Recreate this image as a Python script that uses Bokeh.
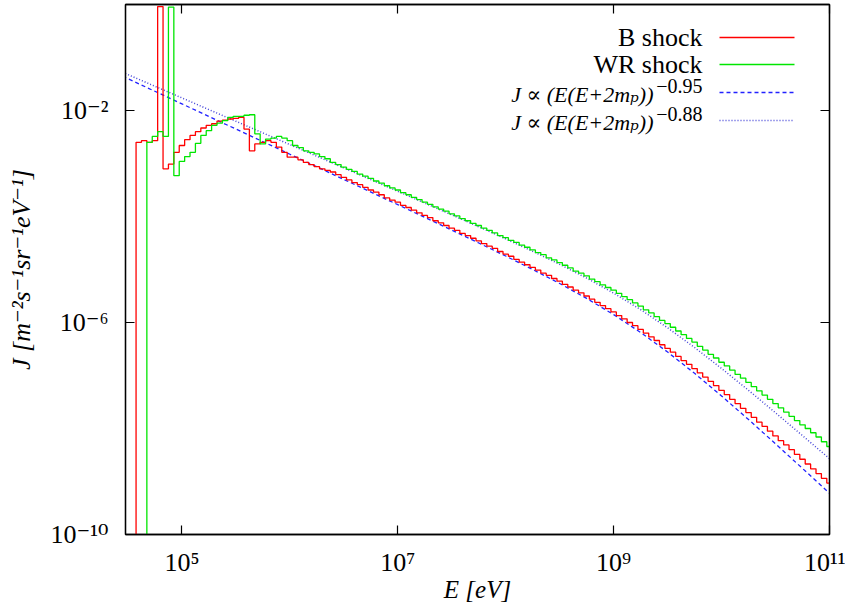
import numpy as np
from bokeh.plotting import figure
from bokeh.models import LogAxis, FixedTicker, Label, Arrow, Range1d
from bokeh.embed import file_html
from bokeh.resources import INLINE

# ---------------- data ----------------
# histogram bins: log10(E/eV) of the first bin edge of each series, bin width in dex
b_first_edge_log10E = 4.575
wr_first_edge_log10E = 4.675
bin_width_dex = 0.05

# log10 J for each bin, B shock (red)
b_shock_log10J = [
    -2.60, -2.57, -2.60, -2.57, -0.04, -3.10, -3.01, -2.79, -2.66, -2.55,
    -2.47, -2.40, -2.33, -2.28, -2.25, -2.20, -2.18, -2.16, -2.15, -2.13,
    -2.35, -2.76, -2.63, -2.60, -2.57, -2.60, -2.69, -2.79, -2.88, -2.88,
    -2.93, -2.98, -3.02, -3.06, -3.10, -3.13, -3.16, -3.21, -3.26, -3.31,
    -3.36, -3.40, -3.45, -3.50, -3.54, -3.59, -3.65, -3.69, -3.73, -3.79,
    -3.83, -3.88, -3.93, -3.98, -4.02, -4.08, -4.12, -4.17, -4.22, -4.26,
    -4.32, -4.36, -4.41, -4.46, -4.51, -4.56, -4.60, -4.66, -4.71, -4.75,
    -4.81, -4.86, -4.91, -4.96, -5.01, -5.07, -5.11, -5.17, -5.22, -5.28,
    -5.33, -5.39, -5.44, -5.50, -5.56, -5.62, -5.68, -5.74, -5.80, -5.87,
    -5.93, -6.00, -6.06, -6.13, -6.20, -6.27, -6.34, -6.42, -6.49, -6.56,
    -6.64, -6.72, -6.79, -6.87, -6.95, -7.03, -7.11, -7.19, -7.28, -7.36,
    -7.45, -7.53, -7.62, -7.70, -7.79, -7.88, -7.96, -8.05, -8.14, -8.23,
    -8.31, -8.40, -8.49, -8.58, -8.67, -8.76, -8.85, -8.94, -9.03,
]

# log10 J for each bin, WR shock (green)
wr_shock_log10J = [
    -2.60, -2.49, -2.40, -2.49, -0.05, -3.23, -2.96, -2.87, -2.79, -2.62,
    -2.47, -2.38, -2.28, -2.24, -2.19, -2.13, -2.11, -2.11, -2.09, -2.08,
    -2.44, -2.63, -2.54, -2.52, -2.49, -2.52, -2.57, -2.66, -2.70, -2.76,
    -2.79, -2.82, -2.87, -2.91, -2.98, -3.02, -3.07, -3.11, -3.15, -3.20,
    -3.24, -3.28, -3.33, -3.37, -3.42, -3.46, -3.50, -3.55, -3.59, -3.64,
    -3.68, -3.73, -3.77, -3.82, -3.86, -3.90, -3.95, -3.99, -4.04, -4.08,
    -4.13, -4.17, -4.22, -4.26, -4.31, -4.36, -4.40, -4.45, -4.49, -4.54,
    -4.58, -4.63, -4.68, -4.72, -4.78, -4.82, -4.87, -4.92, -4.97, -5.03,
    -5.07, -5.12, -5.18, -5.23, -5.29, -5.34, -5.39, -5.45, -5.51, -5.57,
    -5.63, -5.69, -5.76, -5.82, -5.89, -5.96, -6.02, -6.09, -6.16, -6.23,
    -6.30, -6.37, -6.45, -6.52, -6.60, -6.67, -6.75, -6.82, -6.90, -6.98,
    -7.05, -7.13, -7.21, -7.29, -7.37, -7.45, -7.53, -7.61, -7.69, -7.77,
    -7.85, -7.93, -8.00, -8.08, -8.16, -8.25, -8.34,
]

# power-law reference curves
fit_log10E = [4.45, 5.0, 5.5, 6.0, 6.5, 7.0, 7.5, 7.75, 8.0, 8.25, 8.5,
              8.75, 9.0, 9.25, 9.5, 9.75, 10.0, 10.25, 10.5, 10.75, 11.0]
fit095_log10J = [-1.353, -1.875, -2.350, -2.825, -3.301, -3.777, -4.257,
                 -4.500, -4.746, -5.000, -5.264, -5.546, -5.851, -6.188,
                 -6.557, -6.959, -7.386, -7.832, -8.289, -8.754, -9.223]
fit088_log10J = [-1.279, -1.763, -2.203, -2.643, -3.083, -3.525, -3.969,
                 -4.194, -4.422, -4.657, -4.902, -5.163, -5.446, -5.757,
                 -6.100, -6.472, -6.868, -7.280, -7.704, -8.135, -8.569]

x_ticks = [1e5, 1e7, 1e9, 1e11]
x_tick_labels = ["10\u2075", "10\u2077", "10\u2079", "10\u00b9\u00b9"]
y_ticks = [1e-10, 1e-6, 1e-2]
y_tick_labels = ["10\u207b\u00b9\u2070", "10\u207b\u2076", "10\u207b\u00b2"]

series_names = ["B shock", "WR shock"]
fit_names = ["J \u221d (E(E+2m\u209a))", "J \u221d (E(E+2m\u209a))"]
fit_exponents = ["\u22120.95", "\u22120.88"]

# ---------------- helpers ----------------
FLOOR = 1e-13  # below the axis, so the first riser comes up from the bottom


def step_path(first_edge, log_vals):
    n = len(log_vals)
    edges = 10 ** (first_edge + bin_width_dex * np.arange(n + 1))
    vals = 10 ** np.asarray(log_vals)
    xs = [edges[0]]
    ys = [FLOOR]
    for i in range(n):
        xs += [edges[i], edges[i + 1]]
        ys += [vals[i], vals[i]]
    return xs, ys


FONT = "Liberation Serif, DejaVu Serif"
FS = "26px"

p = figure(
    x_axis_type="log", y_axis_type="log",
    x_range=Range1d(3e4, 1e11), y_range=Range1d(1e-10, 1.0),
    frame_width=704, frame_height=530,
    min_border_left=125, min_border_right=16,
    min_border_top=4, min_border_bottom=60,
    toolbar_location=None, output_backend="svg",
)
p.background_fill_color = "white"
p.border_fill_color = "white"
p.outline_line_color = "black"
p.outline_line_width = 1.3
p.xgrid.visible = False
p.ygrid.visible = False

# data
bx, by = step_path(b_first_edge_log10E, b_shock_log10J)
gx, gy = step_path(wr_first_edge_log10E, wr_shock_log10J)
fx = 10 ** np.asarray(fit_log10E)

DASH_COL = "#2222ff"
DOT_COL = "#4646d8"
p.line(fx, 10 ** np.asarray(fit095_log10J), line_color=DASH_COL, line_width=1.3,
       line_dash="4 3")
p.line(fx, 10 ** np.asarray(fit088_log10J), line_color=DOT_COL, line_width=1.5,
       line_dash="1 2")
p.line(bx, by, line_color="#ff0000", line_width=1.3)
p.line(gx, gy, line_color="#00e600", line_width=1.3)

# axes
bottom_ax = p.below[0]
left_ax = p.left[0]
bottom_ax.ticker = FixedTicker(ticks=x_ticks)
bottom_ax.major_label_overrides = {float(t): s for t, s in zip(x_ticks, x_tick_labels)}
bottom_ax.axis_label = "E [eV]"
left_ax.ticker = FixedTicker(ticks=y_ticks)
left_ax.major_label_overrides = {float(t): s for t, s in zip(y_ticks, y_tick_labels)}
left_ax.axis_label = "J [m\u207b\u00b2s\u207b\u00b9sr\u207b\u00b9eV\u207b\u00b9]"

right_ax = LogAxis(ticker=FixedTicker(ticks=y_ticks))
top_ax = LogAxis(ticker=FixedTicker(ticks=x_ticks))
p.add_layout(right_ax, "right")
p.add_layout(top_ax, "above")

for ax in [bottom_ax, left_ax, right_ax, top_ax]:
    ax.axis_line_color = "black"
    ax.axis_line_width = 1.3
    ax.major_tick_in = 9
    ax.major_tick_out = 0
    ax.major_tick_line_color = "black"
    ax.major_tick_line_width = 1.2
    ax.minor_tick_line_color = None
    ax.major_label_text_font = FONT
    ax.major_label_text_font_size = FS
    ax.major_label_text_color = "black"
    ax.axis_label_text_font = FONT
    ax.axis_label_text_font_size = FS
    ax.axis_label_text_font_style = "italic"
    ax.axis_label_text_color = "black"

bottom_ax.major_label_standoff = 13
bottom_ax.axis_label_standoff = -4
bottom_ax.axis_label_text_font_size = "25px"
left_ax.major_label_standoff = 17
left_ax.axis_label_standoff = 12

for ax in (right_ax, top_ax):
    ax.major_label_text_font_size = "1px"
    ax.major_label_text_alpha = 0
    ax.major_label_standoff = 0

# legend (right-aligned labels, sample line to the right, gnuplot style)
# screen units: offsets from the frame's bottom-left corner
colors = ["#ff0000", "#00e600"]
rows_y = [497, 470]
for name, c, yy in zip(series_names, colors, rows_y):
    p.add_layout(Label(x=577, y=yy, x_units="screen", y_units="screen", text=name,
                       text_align="right", text_baseline="middle",
                       text_font=FONT, text_font_size=FS, text_color="black"))
    p.add_layout(Arrow(end=None, x_start=594, y_start=yy, x_end=669, y_end=yy,
                       start_units="screen", end_units="screen",
                       line_color=c, line_width=1.5))

fit_rows = [442, 414]
fit_dash = ["4 3", "1 2"]
fit_cols = [DASH_COL, DOT_COL]
for name, ex, yy, d, c in zip(fit_names, fit_exponents, fit_rows, fit_dash, fit_cols):
    p.add_layout(Label(x=528, y=yy - 2, x_units="screen", y_units="screen", text=name,
                       text_align="right", text_baseline="middle",
                       text_font=FONT, text_font_size="22px", text_font_style="italic",
                       text_color="black"))
    p.add_layout(Label(x=577, y=yy + 7, x_units="screen", y_units="screen", text=ex,
                       text_align="right", text_baseline="middle",
                       text_font=FONT, text_font_size="20px", text_color="black"))
    p.add_layout(Arrow(end=None, x_start=594, y_start=yy, x_end=669, y_end=yy,
                       start_units="screen", end_units="screen",
                       line_color=c, line_width=1.5, line_dash=d))

open("out.html", "w").write(file_html(p, INLINE))
